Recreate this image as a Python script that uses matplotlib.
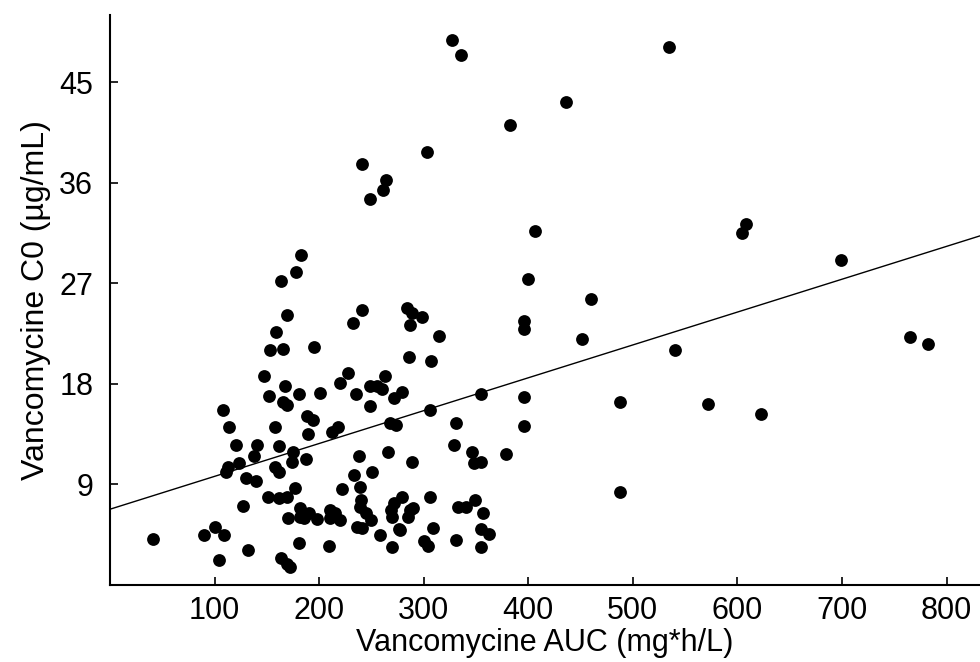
import matplotlib
matplotlib.use("Agg")
import matplotlib.pyplot as plt
import numpy as np

plt.rcParams['font.family'] = ['Liberation Sans', 'DejaVu Sans']

# Vancomycine AUC (mg*h/L) and trough C0 (ug/mL)
auc = [
    327, 336, 535, 436, 383, 303, 241, 264, 261, 249,
    406, 608, 604, 183, 178, 164, 699, 400, 460,
    169, 159, 153, 165, 195, 241, 232, 284, 289, 298, 287,
    315, 396, 396, 451, 765, 782, 540, 286, 307,
    147, 152, 167, 165, 169, 181, 201, 220, 228, 235,
    249, 255, 263, 260, 249, 272, 279, 355, 396, 488, 572,
    306, 268, 274, 331, 396, 623, 188, 194, 158, 189, 212, 218,
    108, 114, 121, 141, 138, 162, 175, 174, 187,
    113, 111, 123, 158, 162, 130, 140,
    238, 266, 289, 329, 346, 348, 355, 379, 251,
    233, 239, 240, 222, 177, 169, 162, 151, 127, 488,
    182, 182, 186, 190, 170, 198, 210, 215, 220, 210,
    239, 245, 250, 236, 241, 258,
    269, 272, 279, 270, 287, 290, 285, 306,
    333, 340, 349, 357,
    309, 277, 276, 355, 362,
    270, 300, 304, 209, 181, 331, 355,
    164, 169, 172, 132, 104, 90, 100, 109, 41,
]
c0 = [
    48.8, 47.4, 48.1, 43.2, 41.2, 38.7, 37.7, 36.2, 35.3, 34.5,
    31.7, 32.3, 31.5, 29.5, 28.0, 27.2, 29.1, 27.4, 25.6,
    24.2, 22.6, 21.0, 21.1, 21.3, 24.6, 23.4, 24.8, 24.3, 24.0, 23.3,
    22.3, 23.6, 22.9, 22.0, 22.2, 21.6, 21.0, 20.4, 20.0,
    18.7, 16.9, 17.8, 16.4, 16.1, 17.1, 17.2, 18.1, 19.0, 17.1,
    17.8, 17.8, 18.7, 17.5, 16.0, 16.7, 17.3, 17.1, 16.8, 16.4, 16.2,
    15.7, 14.5, 14.3, 14.5, 14.2, 15.3, 15.1, 14.8, 14.1, 13.5, 13.7, 14.1,
    15.7, 14.1, 12.5, 12.5, 11.5, 12.4, 11.9, 11.0, 11.3,
    10.6, 10.1, 10.9, 10.6, 10.1, 9.6, 9.3,
    11.5, 11.9, 11.0, 12.5, 11.9, 10.9, 11.0, 11.7, 10.1,
    9.8, 8.8, 7.6, 8.6, 8.7, 7.9, 7.8, 7.9, 7.1, 8.3,
    6.9, 6.1, 6.0, 6.4, 6.0, 5.9, 6.7, 6.4, 5.8, 6.0,
    7.0, 6.4, 5.8, 5.2, 5.1, 4.5,
    6.7, 7.3, 7.9, 6.1, 6.7, 6.9, 6.1, 7.9,
    7.0, 7.0, 7.6, 6.4,
    5.1, 4.9, 5.0, 5.0, 4.6,
    3.4, 3.9, 3.5, 3.5, 3.8, 4.0, 3.4,
    2.4, 1.9, 1.6, 3.1, 2.2, 4.5, 5.2, 4.5, 4.1,
]

# fitted line as drawn in the figure
fit_intercept = 6.78
fit_slope = 0.0294

x_ticks = [100, 200, 300, 400, 500, 600, 700, 800]
y_ticks = [9, 18, 27, 36, 45]

fig = plt.figure(figsize=(9.8, 6.62), dpi=100)
ax = fig.add_axes([0.1122, 0.1163, 0.8878, 0.861])

ax.scatter(auc, c0, s=85, c='black', marker='o', linewidths=0, zorder=3)

xl = np.array([0, 832])
ax.plot(xl, fit_intercept + fit_slope * xl, color='black', lw=1.0, zorder=2)

ax.set_xlim(0, 832)
ax.set_ylim(0, 51)
ax.set_xticks(x_ticks)
ax.set_yticks(y_ticks)

for s in ['top', 'right']:
    ax.spines[s].set_visible(False)
for s in ['left', 'bottom']:
    ax.spines[s].set_linewidth(1.5)

ax.tick_params(direction='in', length=6, width=1.2, labelsize=22)
ax.tick_params(axis='x', pad=8)
ax.tick_params(axis='y', pad=12)
ax.set_xlabel('Vancomycine AUC (mg*h/L)', fontsize=22, labelpad=1)
ax.set_ylabel('Vancomycine C0 (µg/mL)', fontsize=23, labelpad=6)

fig.savefig('out.png', dpi=100)
